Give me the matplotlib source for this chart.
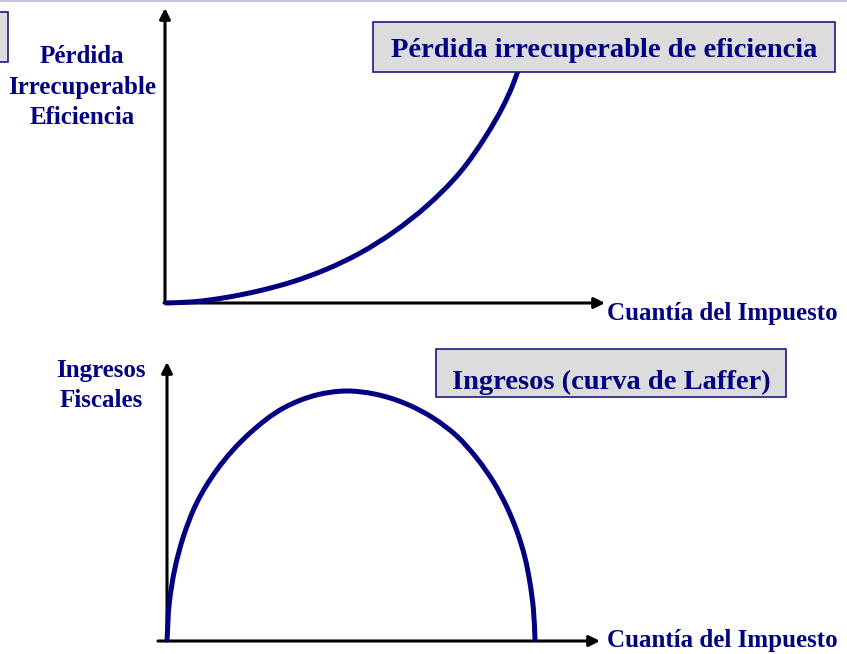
import numpy as np
import matplotlib
matplotlib.use('Agg')
import matplotlib.pyplot as plt
from matplotlib.path import Path
from matplotlib.patches import PathPatch, Rectangle

# curve readings (tax amount 0-100, value 0-100)
dwl_tax = [0, 6.4, 14.0, 21.6, 29.2, 36.8, 44.3, 51.9, 59.5, 67.0, 73.1, 76.8, 79.1, 80.7]
dwl_val = [0, 0.4, 1.9, 4.2, 7.3, 11.5, 16.9, 24.0, 32.9, 44.2, 57.0, 66.6, 74.1, 80.9]

rev_tax = [0, 0.53, 1.85, 3.76, 6.86, 11.5, 19.2, 26.9, 34.6, 41.1, 48.0, 55.4, 61.5, 66.9,
           71.5, 75.4, 78.5, 80.8, 82.7, 83.8, 84.6, 85.0]
rev_val = [0, 13.6, 26.2, 37.3, 49.5, 61.3, 74.6, 83.5, 88.2, 89.6, 88.5, 84.9, 79.9, 73.5,
           65.6, 57.0, 48.0, 39.4, 29.7, 21.1, 11.8, 0]

top_title = 'Pérdida irrecuperable de eficiencia'
top_ylabel = ['Pérdida', 'Irrecuperable', 'Eficiencia']
bot_title = 'Ingresos (curva de Laffer)'
bot_ylabel = ['Ingresos', 'Fiscales']
xlabel = 'Cuantía del Impuesto'

W, H = 847, 654
navy = '#000080'
font = dict(family='Liberation Serif', weight='bold', color=navy)


def smooth_path(xs, ys, sx, sy):
    # smooth bezier through the read points (non-uniform catmull-rom tangents, pixel-like space)
    p = np.column_stack([np.asarray(xs) * sx, np.asarray(ys) * sy]).astype(float)
    n = len(p)
    seg = np.hypot(*np.diff(p, axis=0).T)
    tang = np.zeros_like(p)
    tang[0] = (p[1] - p[0]) / seg[0]
    tang[-1] = (p[-1] - p[-2]) / seg[-1]
    for i in range(1, n - 1):
        d0 = (p[i] - p[i - 1]) / seg[i - 1]
        d1 = (p[i + 1] - p[i]) / seg[i]
        w0, w1 = seg[i], seg[i - 1]
        t = d0 * w0 + d1 * w1
        tang[i] = t / np.hypot(*t)
    verts = [p[0]]
    codes = [Path.MOVETO]
    for i in range(n - 1):
        L = seg[i] / 3
        verts += [p[i] + tang[i] * L, p[i + 1] - tang[i + 1] * L, p[i + 1]]
        codes += [Path.CURVE4] * 3
    verts = np.array(verts) / [sx, sy]
    return Path(verts, codes)


def rect(l, t, r, b):
    return [l / W, 1 - b / H, (r - l) / W, (b - t) / H]


fig = plt.figure(figsize=(W / 100, H / 100), dpi=100)

# thin line at the top edge
fig.add_artist(plt.Line2D([0, 1], [1 - 1 / H, 1 - 1 / H], transform=fig.transFigure,
                          color='#c4c4dc', lw=1.5))

panels = [
    ((165, 8, 605, 303), dwl_tax, dwl_val, -1),
    ((167, 362, 600, 641), rev_tax, rev_val, -9),
]
for (l, t, r, b), xs, ys, xstart in panels:
    ax = fig.add_axes(rect(l, t, r, b))
    ax.set_xlim(0, 100)
    ax.set_ylim(0, 100)
    ax.axis('off')
    arrow = dict(arrowstyle='-|>', color='black', lw=2.2, mutation_scale=16, shrinkA=0, shrinkB=0)
    ax.annotate('', xy=(0, 1), xytext=(0, 0), xycoords='axes fraction', arrowprops=arrow)
    ax.annotate('', xy=(1, 0), xytext=(xstart / (r - l), 0), xycoords='axes fraction',
                arrowprops=arrow)
    ax.add_patch(PathPatch(smooth_path(xs, ys, (r - l) / 100, (b - t) / 100), facecolor='none',
                           edgecolor=navy, lw=3.6, capstyle='butt', clip_on=False, zorder=3))


def label_box(l, t, r, b, text, size, baseline):
    fig.add_artist(Rectangle((l / W, 1 - b / H), (r - l) / W, (b - t) / H,
                             transform=fig.transFigure, facecolor='#dcdcdc',
                             edgecolor='#1a1a80', lw=1.2, zorder=5))
    fig.text((l + r) / 2 / W, 1 - baseline / H, text, ha='center', va='baseline',
             fontsize=size, zorder=6, **font)


label_box(373, 22, 835, 72, top_title, 20.5, 57)
label_box(436, 349, 786, 397, bot_title, 20.5, 389)
# partial box cut by the left edge
fig.add_artist(Rectangle((-0.02, 1 - 62 / H), 0.02 + 8 / W, 50 / H, transform=fig.transFigure,
                         facecolor='#dcdcdc', edgecolor='#1a1a80', lw=1.2, zorder=5))

for line, base in zip(top_ylabel, [63, 94, 124]):
    fig.text(82 / W, 1 - base / H, line, ha='center', va='baseline', fontsize=18, **font)
for line, base in zip(bot_ylabel, [377, 407]):
    fig.text(101 / W, 1 - base / H, line, ha='center', va='baseline', fontsize=18, **font)
fig.text(607 / W, 1 - 320 / H, xlabel, ha='left', va='baseline', fontsize=18, **font)
fig.text(607 / W, 1 - 647 / H, xlabel, ha='left', va='baseline', fontsize=18, **font)

fig.savefig('out.png', dpi=100)
